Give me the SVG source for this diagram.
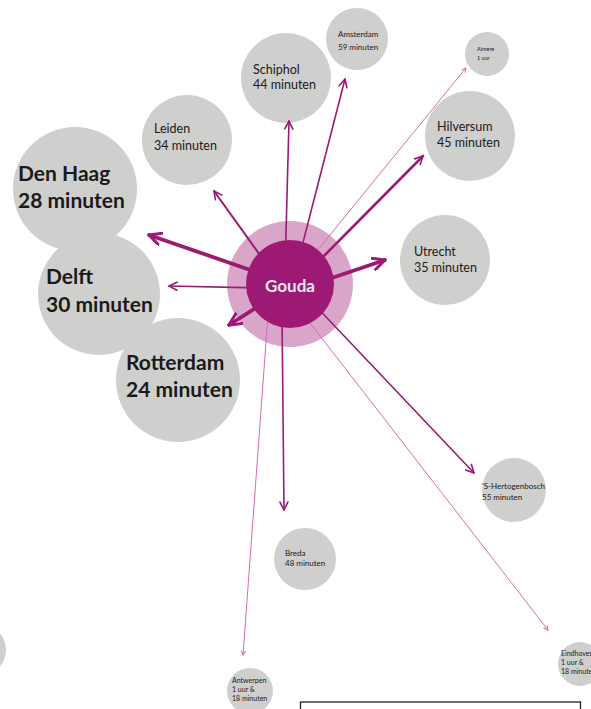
<svg xmlns="http://www.w3.org/2000/svg" width="591" height="709" viewBox="0 0 591 709">
<style>
.c{fill:#cfcfcd}
.t{font-family:Lato,"Open Sans","DejaVu Sans",sans-serif;fill:#1a1a1a}
.b{font-weight:bold;font-size:21px}
.m{font-size:12.5px}
.s{font-size:8px}
.xs{font-size:7px}
.l{stroke:#9c1a74;fill:none;stroke-linecap:round}
.lt{stroke:#d66bb7;fill:none;stroke-width:1}
</style>
<defs>
<marker id="ab" markerUnits="userSpaceOnUse" viewBox="0 0 14 14" refX="13" refY="7" markerWidth="14" markerHeight="14" orient="auto">
<path d="M1,1 L13,7 L1,13" fill="none" stroke="#9c1a74" stroke-width="3" stroke-linecap="round" stroke-linejoin="round"/>
</marker>
<marker id="am" markerUnits="userSpaceOnUse" viewBox="0 0 10 10" refX="9" refY="5" markerWidth="10" markerHeight="10" orient="auto">
<path d="M1,1 L9,5 L1,9" fill="none" stroke="#9c1a74" stroke-width="1.6" stroke-linecap="round" stroke-linejoin="round"/>
</marker>
<marker id="as" markerUnits="userSpaceOnUse" viewBox="0 0 6 6" refX="5" refY="3" markerWidth="6" markerHeight="6" orient="auto">
<path d="M1,1 L5,3 L1,5" fill="none" stroke="#d66bb7" stroke-width="1" stroke-linecap="round"/>
</marker>
</defs>

<g id="left-partial"><circle class="c" cx="-20" cy="650" r="26"/></g>

<g id="amsterdam"><circle class="c" cx="357" cy="39" r="31"/><text class="t s" x="338" y="37">Amsterdam</text><text class="t s" x="338" y="50">59 minuten</text></g>
<g id="schiphol"><circle class="c" cx="286" cy="78" r="45"/><text class="t m" x="253" y="74">Schiphol</text><text class="t m" x="253" y="89">44 minuten</text></g>
<g id="almere"><circle class="c" cx="487" cy="54" r="22"/><text class="t" style="font-size:5.5px" x="477" y="51">Almere</text><text class="t" style="font-size:5.5px" x="477" y="60">1 uur</text></g>
<g id="hilversum"><circle class="c" cx="470" cy="136" r="45"/><text class="t m" x="437" y="131">Hilversum</text><text class="t m" x="437" y="147">45 minuten</text></g>
<g id="leiden"><circle class="c" cx="187" cy="140" r="45"/><text class="t m" x="154" y="133">Leiden</text><text class="t m" x="154" y="150">34 minuten</text></g>
<g id="denhaag"><circle class="c" cx="75" cy="189" r="62"/><text class="t b" x="18" y="181">Den Haag</text><text class="t b" x="18" y="208">28 minuten</text></g>
<g id="delft"><circle class="c" cx="99" cy="294" r="61"/><text class="t b" x="46" y="284">Delft</text><text class="t b" x="46" y="312">30 minuten</text></g>
<g id="rotterdam"><circle class="c" cx="178" cy="380" r="62"/><text class="t b" x="126" y="370">Rotterdam</text><text class="t b" x="126" y="397">24 minuten</text></g>
<g id="utrecht"><circle class="c" cx="445" cy="260" r="45"/><text class="t m" x="414" y="256">Utrecht</text><text class="t m" x="414" y="272">35 minuten</text></g>
<g id="hertogenbosch"><circle class="c" cx="514" cy="490" r="32"/><text class="t s" x="482" y="489">'S-Hertogenbosch</text><text class="t s" x="482" y="500">55 minuten</text></g>
<g id="breda"><circle class="c" cx="305" cy="559" r="31"/><text class="t s" x="285" y="556">Breda</text><text class="t s" x="285" y="566">48 minuten</text></g>
<g id="antwerpen"><circle class="c" cx="250" cy="691" r="23"/><text class="t xs" x="232" y="683">Antwerpen</text><text class="t xs" x="232" y="692">1 uur &amp;</text><text class="t xs" x="232" y="701">18 minuten</text></g>
<g id="eindhoven"><circle class="c" cx="580" cy="664" r="22"/><text class="t xs" x="561" y="656">Eindhoven</text><text class="t xs" x="561" y="665">1 uur &amp;</text><text class="t xs" x="561" y="674">18 minuten</text></g>

<g id="gouda-ring"><circle cx="290" cy="284" r="63" fill="#d9a6ca"/></g>

<g id="connectors">
<line class="l" x1="285" y1="270" x2="289" y2="121" stroke-width="1.6" marker-end="url(#am)"/>
<line class="l" x1="298" y1="262" x2="345" y2="79" stroke-width="1.6" marker-end="url(#am)"/>
<line class="lt" x1="308" y1="262" x2="466" y2="68" marker-end="url(#as)"/>
<line class="l" x1="315" y1="265" x2="423" y2="156" stroke-width="2.6" marker-end="url(#am)"/>
<line class="l" x1="265" y1="262" x2="214" y2="191" stroke-width="2" marker-end="url(#am)"/>
<line class="l" x1="265" y1="275" x2="149" y2="235" stroke-width="3.8" marker-end="url(#ab)"/>
<line class="l" x1="260" y1="288" x2="169" y2="286" stroke-width="1.6" marker-end="url(#am)"/>
<line class="l" x1="268" y1="300" x2="229" y2="325" stroke-width="3.8" marker-end="url(#ab)"/>
<line class="l" x1="320" y1="282" x2="385" y2="260" stroke-width="3.8" marker-end="url(#ab)"/>
<line class="l" x1="310" y1="300" x2="474" y2="473" stroke-width="1.6" marker-end="url(#am)"/>
<line class="lt" x1="300" y1="310" x2="548" y2="630" marker-end="url(#as)"/>
<line class="l" x1="282" y1="315" x2="284" y2="510" stroke-width="1.6" marker-end="url(#am)"/>
<line class="lt" x1="268" y1="315" x2="243" y2="655" marker-end="url(#as)"/>
</g>

<g id="gouda"><circle cx="290" cy="284" r="44" fill="#9c1a74"/><text x="290" y="292" text-anchor="middle" style="font-family:Lato,'Open Sans',sans-serif;font-weight:bold;font-size:17px;fill:#f3e6ee">Gouda</text></g>

<g id="legend-box"><rect x="300.5" y="702" width="280" height="20" fill="#fff" stroke="#222" stroke-width="1.3"/></g>
</svg>
